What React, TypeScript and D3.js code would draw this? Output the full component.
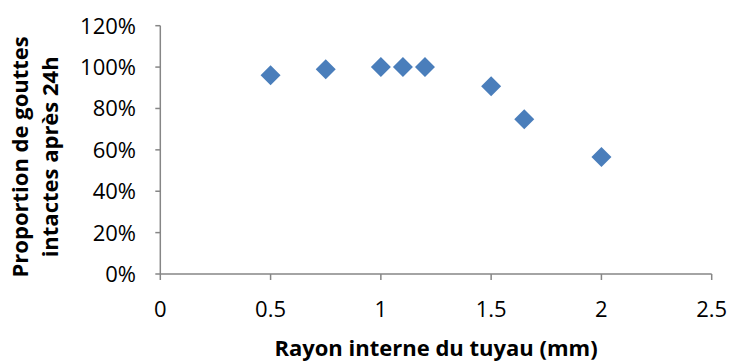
import React from "react";
import * as d3 from "d3";

const radius = [0.5, 0.75, 1, 1.1, 1.2, 1.5, 1.65, 2];
const intact = [0.96, 0.99, 1.0, 1.0, 1.0, 0.907, 0.748, 0.565];
const xTicks = [0, 0.5, 1, 1.5, 2, 2.5];
const yTicks = [0, 0.2, 0.4, 0.6, 0.8, 1.0, 1.2];
const xTitle = "Rayon interne du tuyau (mm)";
const yTitleLines = ["Proportion de gouttes", "intactes après 24h"];

const W = 731;
const H = 363;
const FONT = "'Open Sans', sans-serif";

export default function App() {
  const x = d3.scaleLinear().domain([0, 2.5]).range([160.3, 711.7]);
  const y = d3.scaleLinear().domain([0, 1.2]).range([274, 25.7]);
  const diamond = d3.symbol().type(d3.symbolSquare).size(200)() as string;
  const fmtX = (v: number) => String(v);
  const fmtY = d3.format(".0%");
  const axisColor = "#868686";
  const x0 = x(0);
  const y0 = y(0);
  const cy = (y(0) + y(1.2)) / 2 + 7;

  return (
    <svg
      width={W}
      height={H}
      style={{ position: "absolute", left: 0, top: 0, background: "#fff" }}
      fontFamily={FONT}
    >
      <rect x={0} y={0} width={W} height={H} fill="#fff" />
      {/* Y axis */}
      <line x1={x0} x2={x0} y1={y(1.2)} y2={y0} stroke={axisColor} strokeWidth={1.5} />
      {yTicks.map((t) => (
        <g key={"y" + t}>
          <line x1={x0 - 5} x2={x0} y1={y(t)} y2={y(t)} stroke={axisColor} strokeWidth={1.5} />
          <text x={136} y={y(t)} dy="0.36em" textAnchor="end" fontSize={22} fill="#000">
            {fmtY(t)}
          </text>
        </g>
      ))}
      {/* X axis */}
      <line x1={x0} x2={x(2.5)} y1={y0} y2={y0} stroke={axisColor} strokeWidth={1.5} />
      {xTicks.map((t) => (
        <g key={"x" + t}>
          <line x1={x(t)} x2={x(t)} y1={y0} y2={y0 + 6} stroke={axisColor} strokeWidth={1.5} />
          <text x={x(t)} y={317} textAnchor="middle" fontSize={22} fill="#000">
            {fmtX(t)}
          </text>
        </g>
      ))}
      {/* Points */}
      {radius.map((r, i) => (
        <path
          key={"p" + i}
          d={diamond}
          transform={`translate(${x(r)},${y(intact[i])}) rotate(45)`}
          fill="#4A7EBB"
        />
      ))}
      {/* Titles */}
      <text
        x={(x(0) + x(2.5)) / 2}
        y={356}
        textAnchor="middle"
        fontSize={22}
        fontWeight="bold"
        fill="#000"
      >
        {xTitle}
      </text>
      {yTitleLines.map((line, i) => (
        <text
          key={"yt" + i}
          transform={`translate(${28 + i * 30},${cy}) rotate(-90)`}
          textAnchor="middle"
          fontSize={22}
          fontWeight="bold"
          fill="#000"
        >
          {line}
        </text>
      ))}
    </svg>
  );
}
